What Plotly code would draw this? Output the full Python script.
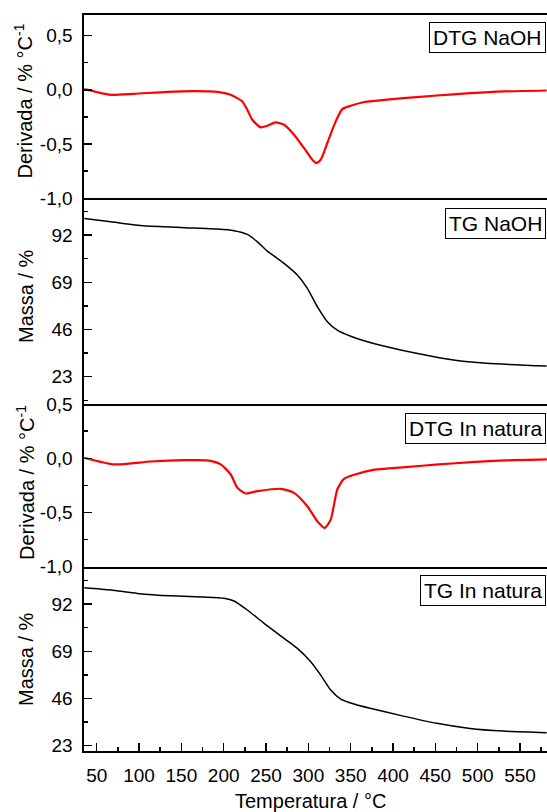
import plotly.graph_objects as go

# ---------------- data ----------------
temp_dtg_naoh = [35.4, 50, 66.6, 94, 133.4, 165, 192.5, 208.3, 222, 227.9, 233.8, 243.8, 251.6,
                 261.5, 271.3, 283.1, 294.9, 304.7, 309.5, 314.6, 322.4, 332.3, 340.1, 350,
                 363.8, 372.8, 412.2, 451.6, 491, 530.3, 581.5]
dtg_naoh = [0.006, -0.02, -0.046, -0.037, -0.018, -0.012, -0.018, -0.046, -0.107, -0.184, -0.276,
            -0.346, -0.331, -0.300, -0.322, -0.414, -0.537, -0.644, -0.675, -0.644, -0.49, -0.291,
            -0.178, -0.147, -0.117, -0.107, -0.077, -0.052, -0.031, -0.015, -0.006]

temp_tg_naoh = [35.4, 66.6, 105.9, 153.2, 192.5, 212.2, 227.9, 239.8, 251.6, 271.3, 287, 298.8,
                310.6, 322.4, 334.2, 350, 365.8, 392.6, 432, 471.4, 510.7, 581.5]
tg_naoh = [100.1, 98.5, 96.5, 95.6, 94.9, 94.1, 92.3, 88.7, 84.2, 78.2, 72.5, 66.0,
           57.1, 49.8, 45.7, 42.7, 40.5, 37.6, 34.0, 31.1, 29.5, 28.2]

temp_dtg_nat = [35.4, 70.5, 113.8, 153.2, 180.8, 196.5, 208.3, 216.2, 226, 239.8, 267.4, 283.1,
                298.8, 310.6, 319.3, 326.4, 334.2, 342.1, 355.3, 375, 414.4, 453.8, 493.1,
                532.5, 581.7]
dtg_nat = [0.005, -0.057, -0.030, -0.018, -0.020, -0.057, -0.150, -0.273, -0.325, -0.304, -0.282,
           -0.319, -0.443, -0.581, -0.643, -0.566, -0.288, -0.190, -0.150, -0.110, -0.082, -0.057,
           -0.036, -0.020, -0.011]

temp_tg_nat = [35.4, 66.6, 98, 137.5, 176.8, 200.4, 212.2, 227.9, 247.7, 271.3, 287, 302.8,
               314.6, 326.4, 338.3, 353.9, 372.9, 412.2, 451.6, 491, 530.3, 581.5]
tg_nat = [99.9, 98.8, 97.2, 96.0, 95.4, 94.8, 93.5, 89.1, 82.6, 75.3, 70.4, 63.9,
          57.4, 50.1, 45.7, 43.3, 41.2, 37.4, 33.9, 31.4, 30.1, 29.3]

x_tick_vals = [50, 100, 150, 200, 250, 300, 350, 400, 450, 500, 550]
dtg_tick_vals = [0.5, 0.0, -0.5, -1.0]
dtg_tick_text = ["0,5", "0,0", "-0,5", "-1,0"]
tg_tick_vals = [23, 46, 69, 92]
tg_tick_text = ["23", "46", "69", "92"]

panel_labels = ["DTG NaOH", "TG NaOH", "DTG In natura", "TG In natura"]
y_titles = ["Derivada / % °C<sup>-1</sup>", "Massa / %", "Derivada / % °C<sup>-1</sup>", "Massa / %"]
x_title = "Temperatura / °C"

# ---------------- figure ----------------
FONT = "Liberation Sans, Arial, sans-serif"
W, H = 547, 812
ML, MR, MT, MB = 84, 0, 15, 61
PH = H - MT - MB


def py2paper(py):
    return (H - MB - py) / PH


fig = go.Figure()
series = [
    (temp_dtg_naoh, dtg_naoh, "red", 2.2),
    (temp_tg_naoh, tg_naoh, "black", 1.5),
    (temp_dtg_nat, dtg_nat, "red", 2.2),
    (temp_tg_nat, tg_nat, "black", 1.5),
]
for i, (xs, ys, col, w) in enumerate(series):
    k = "" if i == 0 else str(i + 1)
    fig.add_trace(go.Scatter(x=xs, y=ys, mode="lines", xaxis="x" + k, yaxis="y" + k,
                             line=dict(color=col, width=w, shape="spline", smoothing=0.6),
                             showlegend=False, hoverinfo="skip"))

bounds = [15, 198.3, 404, 566.7, 751]
yranges = [[-1.0, 0.69], [9.7, 109.9], [-1.0, 0.5], [20.4, 110.2]]
layout = dict(width=W, height=H, margin=dict(l=ML, r=MR, t=MT, b=MB, autoexpand=False),
              paper_bgcolor="white", plot_bgcolor="white",
              font=dict(family=FONT, size=19, color="black"))

for i in range(4):
    k = "" if i == 0 else str(i + 1)
    dom = [py2paper(bounds[i + 1]), py2paper(bounds[i])]
    is_dtg = i % 2 == 0
    yax = dict(domain=dom, range=yranges[i], anchor="x" + k,
               showline=True, linecolor="black", linewidth=1.6, mirror=False,
               showgrid=False, zeroline=False,
               ticks="inside", ticklen=8, tickwidth=1.4, tickcolor="black",
               tickvals=dtg_tick_vals if is_dtg else tg_tick_vals,
               ticktext=dtg_tick_text if is_dtg else tg_tick_text,
               tickfont=dict(size=19, family=FONT), ticklabelstandoff=6,
               minor=dict(ticks="inside", ticklen=4, tickwidth=1.4, tickcolor="black",
                          tick0=0, dtick=0.25 if is_dtg else 11.5, showgrid=False))
    bottom = i == 3
    xax = dict(domain=[0, 1], range=[35.0, 581.9], anchor="y" + k,
               showline=True, linecolor="black", linewidth=1.8, mirror=(i == 0),
               showgrid=False, zeroline=False,
               showticklabels=bottom, ticks="inside" if bottom else "",
               ticklen=8, tickwidth=1.4, tickcolor="black",
               tickvals=x_tick_vals, tickfont=dict(size=19, family=FONT),
               ticklabelstandoff=6)
    if bottom:
        xax["minor"] = dict(ticks="inside", ticklen=4, tickwidth=1.4, tickcolor="black",
                            tick0=25, dtick=50, showgrid=False)
    if i > 0:
        xax["matches"] = "x"
    layout["yaxis" + k] = yax
    layout["xaxis" + k] = xax

annotations = []
# panel label boxes
box_tops = [21.7, 208, 413, 575]
for lab, top in zip(panel_labels, box_tops):
    annotations.append(dict(text=lab, xref="paper", yref="paper", x=1, y=py2paper(top),
                            xanchor="right", yanchor="top", xshift=-1, showarrow=False,
                            font=dict(size=21, family=FONT, color="black"),
                            bordercolor="black", borderwidth=1, borderpad=3,
                            bgcolor="white"))
# y titles
title_centers = [101.5, 296, 483, 659]
title_x = [23, 26, 25, 26]
for t, cy, cx in zip(y_titles, title_centers, title_x):
    annotations.append(dict(text=t, xref="paper", yref="paper", x=0, y=py2paper(cy),
                            xanchor="center", yanchor="middle", xshift=cx - ML,
                            textangle=-90, showarrow=False,
                            font=dict(size=20, family=FONT, color="black")))
# x title
annotations.append(dict(text=x_title, xref="paper", yref="paper",
                        x=(310 - ML) / (W - ML - MR), y=py2paper(801),
                        xanchor="center", yanchor="middle", showarrow=False,
                        font=dict(size=20, family=FONT, color="black")))
layout["annotations"] = annotations

fig.update_layout(**layout)
fig.write_html("out.html", config={"displayModeBar": False, "staticPlot": True},
               post_script="document.body.style.margin='0';document.body.style.overflow='hidden';")
